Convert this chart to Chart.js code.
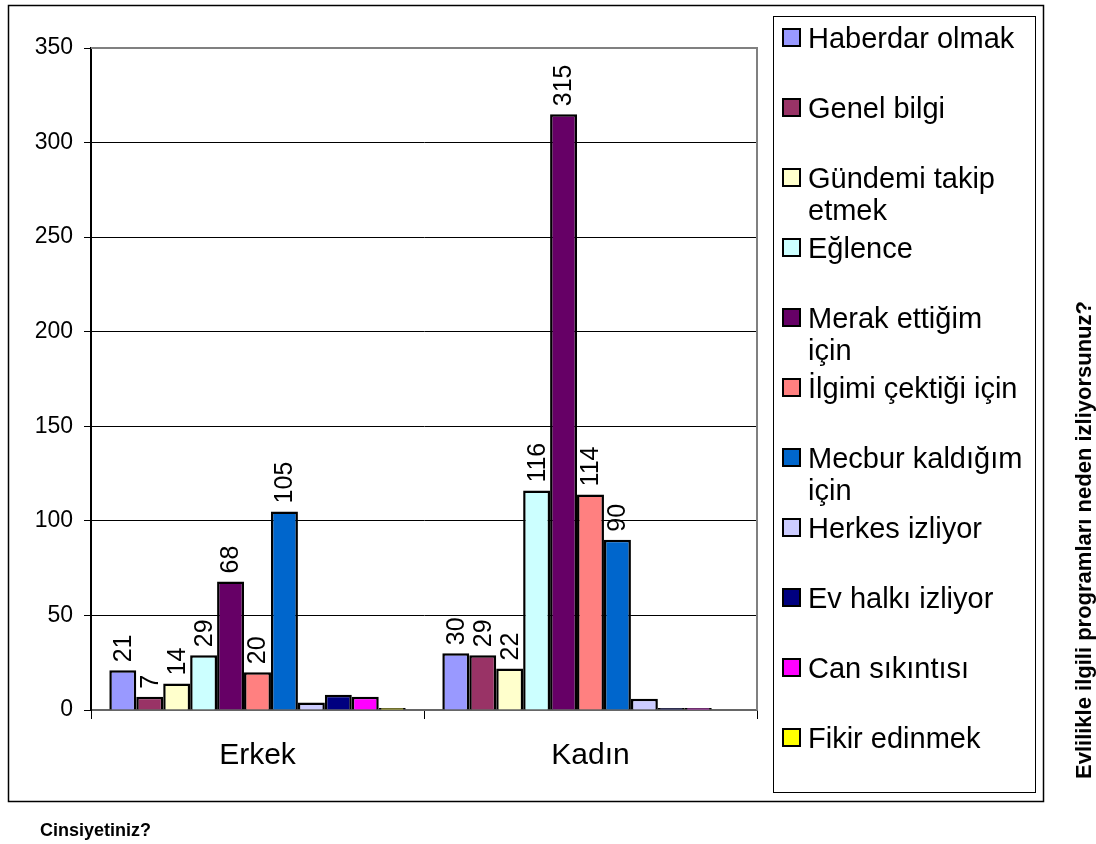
<!DOCTYPE html>
<html>
<head>
<meta charset="utf-8">
<script src="https://cdn.jsdelivr.net/npm/chart.js@4/dist/chart.umd.min.js"></script>
<style>
  body { margin: 0; background: #fff; }
  #wrap { width: 1096px; height: 844px; }
</style>
</head>
<body>
<div id="wrap"><canvas id="chart" width="1096" height="844"></canvas></div>
<script>
// categories (x axis) and series names
const categories = ['Erkek', 'Kadın'];
const reasons = [
  'Haberdar olmak', 'Genel bilgi', 'Gündemi takip etmek', 'Eğlence',
  'Merak ettiğim için', 'İlgimi çektiği için', 'Mecbur kaldığım için',
  'Herkes izliyor', 'Ev halkı izliyor', 'Can sıkıntısı', 'Fikir edinmek'
];
// values per reason, Erkek then Kadın
const erkek = [21, 7, 14, 29, 68, 20, 105, 4, 8, 7, 1];
const kadin = [30, 29, 22, 116, 315, 114, 90, 6, 1, 1, 0];
const yTicks = [0, 50, 100, 150, 200, 250, 300, 350];
const labelledSeries = 7; // only the first seven series carry value labels
// legend entries that break onto a second line before their last word
const wrapped = ['Gündemi takip etmek', 'Merak ettiğim için', 'Mecbur kaldığım için'];

const colors = ['#9999FF', '#993366', '#FFFFCC', '#CCFFFF', '#660066', '#FF8080',
                '#0066CC', '#CCCCFF', '#000080', '#FF00FF', '#FFFF00'];

const FONT = '"Liberation Sans", Arial, sans-serif';

// frame, plot border, value labels, legend and titles
const decor = {
  id: 'decor',
  beforeDraw(chart) {
    const c = chart.ctx;
    c.save();
    c.fillStyle = '#fff';
    c.fillRect(0, 0, chart.width, chart.height);
    c.strokeStyle = '#000';
    c.lineWidth = 1.5;
    c.strokeRect(8.5, 5.5, 1035, 796);
    c.lineWidth = 1;
    c.strokeRect(773.5, 16.5, 262, 776);
    c.restore();
  },
  beforeDatasetsDraw(chart) {
    const c = chart.ctx, a = chart.chartArea;
    c.save();
    c.strokeStyle = '#808080';
    c.lineWidth = 2;
    c.beginPath();
    c.moveTo(a.left, a.top);
    c.lineTo(a.right, a.top);
    c.lineTo(a.right, a.bottom);
    c.stroke();
    c.restore();
  },
  afterDatasetsDraw(chart) {
    const c = chart.ctx;
    c.save();
    c.fillStyle = '#000';
    c.font = '25px ' + FONT;
    c.textAlign = 'left';
    c.textBaseline = 'middle';
    chart.data.datasets.forEach((ds, i) => {
      if (i >= labelledSeries) return;
      chart.getDatasetMeta(i).data.forEach((bar, j) => {
        c.save();
        c.translate(bar.x, bar.y - 8);
        c.rotate(-Math.PI / 2);
        c.fillText(String(ds.data[j]), 0, 1);
        c.restore();
      });
    });
    c.restore();
  },
  afterDraw(chart) {
    const c = chart.ctx;
    c.save();
    // legend
    c.font = '29px ' + FONT;
    c.textBaseline = 'alphabetic';
    chart.data.datasets.forEach((ds, i) => {
      const yMid = 38 + i * 70;
      c.fillStyle = ds.backgroundColor;
      c.fillRect(783, yMid - 9, 17, 17);
      c.strokeStyle = '#000';
      c.lineWidth = 2;
      c.strokeRect(783, yMid - 9, 17, 17);
      let lines = [ds.label];
      if (wrapped.includes(ds.label)) {
        const k = ds.label.lastIndexOf(' ');
        lines = [ds.label.slice(0, k), ds.label.slice(k + 1)];
      }
      c.fillStyle = '#000';
      lines.forEach((ln, k) => c.fillText(ln, 808, yMid + 10 + k * 32, 224));
    });
    // axis titles
    c.font = 'bold 18px ' + FONT;
    c.textAlign = 'left';
    c.fillText('Cinsiyetiniz?', 40, 836);
    c.font = 'bold 22px ' + FONT;
    c.translate(1091, 540);
    c.rotate(-Math.PI / 2);
    c.textAlign = 'center';
    c.fillText('Evlilikle ilgili programları neden izliyorsunuz?', 0, 0);
    c.restore();
  }
};

new Chart(document.getElementById('chart'), {
  type: 'bar',
  data: {
    labels: categories,
    datasets: reasons.map((r, i) => ({
      label: r,
      data: [erkek[i], kadin[i]],
      backgroundColor: colors[i],
      borderColor: '#000',
      borderWidth: 2.5,
      categoryPercentage: 0.89,
      barPercentage: 1.0
    }))
  },
  options: {
    responsive: false,
    animation: false,
    layout: { padding: { left: 0, top: 48, right: 339, bottom: 0 } },
    plugins: { legend: { display: false }, tooltip: { enabled: false } },
    scales: {
      x: {
        grid: { display: true, offset: true, drawOnChartArea: false, color: '#000', tickLength: 9 },
        border: { color: '#666', width: 2 },
        ticks: { color: '#000', font: { family: FONT, size: 30 }, padding: 19 },
        afterFit(s) { s.height = 134; }
      },
      y: {
        min: 0,
        max: 350,
        afterBuildTicks(s) { s.ticks = yTicks.map(v => ({ value: v })); },
        grid: { color: '#000', lineWidth: 1, tickLength: 7 },
        border: { color: '#000', width: 2 },
        ticks: { color: '#000', font: { family: FONT, size: 23 }, padding: 11 },
        afterFit(s) { s.width = 91; }
      }
    }
  },
  plugins: [decor]
});
</script>
</body>
</html>
